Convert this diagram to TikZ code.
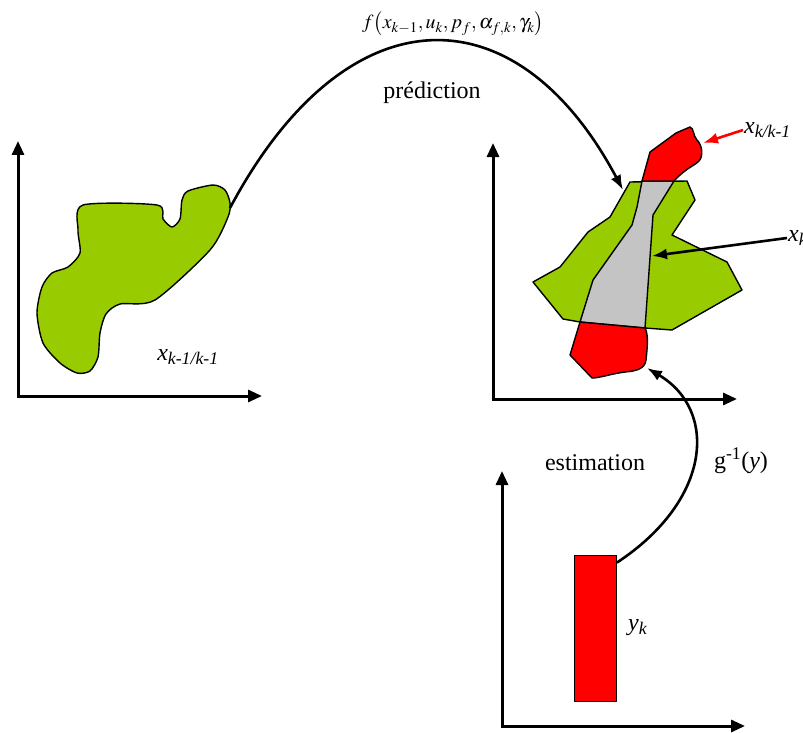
\documentclass[tikz,border=0pt]{standalone}
\usepackage{mathptmx}
\usepackage{fontspec}
\setmainfont{Liberation Serif}
\usetikzlibrary{arrows.meta,positioning}
\definecolor{leafgreen}{HTML}{99CC00}
\definecolor{setred}{HTML}{FF0000}
\definecolor{overlapgray}{HTML}{C4C4C4}

\begin{document}
\begin{tikzpicture}[
  x=1pt,y=-1pt,
  font=\fontsize{24}{28}\selectfont,
  axis/.style={line width=3pt,
    {Triangle[length=14pt,width=12pt]}-{Triangle[length=14pt,width=12pt]}},
  region/.style={draw=black,line width=1.4pt,line join=round},
  flow/.style={-{Latex[length=15pt,width=11pt]},line width=2.6pt},
  lbl/.style={inner sep=1pt}
]
  \useasboundingbox (0,0) rectangle (803,733);

  % three state spaces
  \draw[axis] (18,141) |- (262,396);
  \draw[axis] (493,143) |- (737,399);
  \draw[axis] (502,471) |- (745,726);

  % previous estimate
  \filldraw[region,fill=leafgreen] plot[smooth cycle,tension=0.45] coordinates {
    (83,205) (157,205) (163,219) (172,227) (180,219) (182,200) (188,191)
    (213,185) (225,190) (230,203) (228,217) (210,250) (155,300) (120,304)
    (106,314) (100,333) (98,357) (90,371) (77,373) (60,363) (43,343)
    (37,313) (42,287) (52,273) (68,267) (80,253) (78,230)};
  \coordinate (predstart) at (230,208);
  \node[lbl] (xprev) at (188,357) {\textit{x}\textsubscript{\textit{k-1/k-1}}};

  % prediction and its intersection with the measurement set
  \filldraw[region,fill=leafgreen] (630,182) -- (687,181) -- (695,200)
    -- (672,235) -- (727,262) -- (742,290) -- (672,330) -- (645,328)
    -- (580,322) -- (563,319) -- (533,282) -- (560,267) -- (588,232)
    -- (610,217) -- cycle;
  \filldraw[region,fill=overlapgray] (642,181) -- (674,181) -- (653,215)
    -- (645,328) -- (580,322) -- (593,280) -- (632,225) -- (637,207) -- cycle;
  \filldraw[region,fill=setred] (642,181) -- (650,152) -- (676,133)
    -- (690,127) .. controls (694,128) and (693,136) .. (697,140)
    .. controls (703,146) and (703,157) .. (699,161)
    .. controls (694,166) and (686,168) .. (674,181) -- cycle;
  \filldraw[region,fill=setred] (580,322) -- (645,328)
    .. controls (649,335) and (647,350) .. (646,360)
    .. controls (645,368) and (638,371) .. (625,372)
    .. controls (610,374) and (600,378) .. (592,378) -- (570,355) -- cycle;
  \coordinate (predend) at (623,190);
  \coordinate (predtip) at (703,143);
  \coordinate (corrtip) at (652,256);
  \coordinate (obstip) at (647,368);

  \node[lbl,anchor=west] (xpred) at (743,130) {\textit{x}\textsubscript{\textit{k/k-1}}};
  \node[lbl,anchor=west] (xk) at (787,238) {\textit{x}\textsubscript{\textit{k}}};

  % measurement
  \node[region,line width=0.8pt,fill=setred,minimum width=42,minimum height=146,
    inner sep=0pt] (obs) at (595.5,628) {};
  \node[lbl,right=10pt of obs] (yk) {\textit{y}\textsubscript{\textit{k}}};
  \coordinate (obsstart) at ([yshift=-8pt]obs.north east);

  % labels of the two steps
  \node[lbl,font=\fontsize{20}{24}\selectfont] (fmap) at (453,24)
    {$f\bigl(x_{k-1},u_k,p_f,\alpha_{f,k},\gamma_k\bigr)$};
  \node[lbl] (pred) at (432,93) {prédiction};
  \node[lbl] (est) at (595,463) {estimation};
  \node[lbl] (ginv) at (741,461) {g\textsuperscript{-1}(\textit{y})};

  \draw[flow] (predstart) .. controls (345,-8) and (515,-13) .. (predend);
  \draw[flow] (obsstart) .. controls (712,500) and (718,410) .. (obstip);
  \draw[flow,setred] (xpred.west) -- (predtip);
  \draw[flow] (xk.west) -- (corrtip);
\end{tikzpicture}
\end{document}
